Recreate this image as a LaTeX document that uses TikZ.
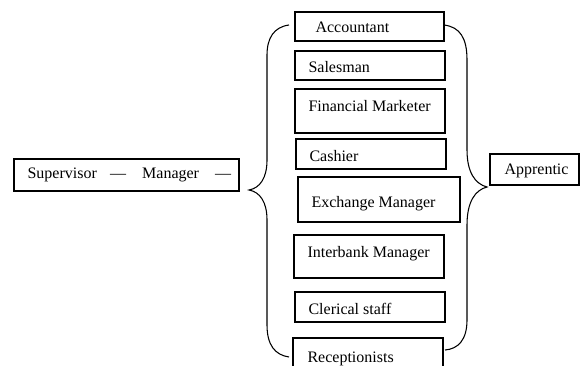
\documentclass[tikz,border=0pt]{standalone}
\usepackage{fontspec}
\setmainfont{Liberation Serif}

\begin{document}
\begin{tikzpicture}[x=0.75pt, y=-0.75pt, line width=0.8pt,
		jobbox/.style={shape=rectangle, draw, inner sep=0pt},
		joblabel/.style={anchor=base west, inner sep=0pt, font=\fontsize{12}{14}\selectfont}]
		\useasboundingbox (0,0) rectangle (580,366);
		% Boxes and their texts:
		\node[jobbox, minimum width=168.75pt, minimum height=24pt] (sup) at (126.5, 175){};
		\node[joblabel] (supt) at (27, 179){Supervisor\hspace{10pt}—\hspace{12pt}Manager\hspace{12pt}—};
		\node[jobbox, minimum width=111.75pt, minimum height=21.75pt] (acc) at (369.5, 26.5){};
		\node[joblabel] (acct) at (315, 33){Accountant};
		\node[jobbox, minimum width=112.5pt, minimum height=21.75pt] (sal) at (370, 65.5){};
		\node[joblabel] (salt) at (308, 73){Salesman};
		\node[jobbox, minimum width=112.5pt, minimum height=33pt] (fin) at (370, 111){};
		\node[joblabel] (fint) at (308, 112){Financial Marketer};
		\node[jobbox, minimum width=112.5pt, minimum height=22.5pt] (cas) at (371, 154){};
		\node[joblabel] (cast) at (309, 162){Cashier};
		\node[jobbox, minimum width=121.5pt, minimum height=33.75pt] (exc) at (379, 199.5){};
		\node[joblabel] (exct) at (311, 208){Exchange Manager};
		\node[jobbox, minimum width=112.5pt, minimum height=32.25pt] (int) at (369, 256.5){};
		\node[joblabel] (intt) at (307, 257){Interbank Manager};
		\node[jobbox, minimum width=112.5pt, minimum height=22.5pt] (cle) at (370, 307){};
		\node[joblabel] (clet) at (308, 314){Clerical staff};
		\node[jobbox, minimum width=112.5pt, minimum height=27.75pt] (rec) at (368, 356.5){};
		\node[joblabel] (rect) at (307, 362){Receptionists};
		\node[jobbox, minimum width=66.75pt, minimum height=23.25pt] (app) at (534.5, 169.5){};
		\node[joblabel] (appt) at (504, 175){Apprentic};
		% Braces:
		\draw (289, 25) .. controls (274, 27) and (267, 38) .. (267, 55) -- (267, 160)
			.. controls (267, 178) and (260, 188) .. (249, 190)
			.. controls (260, 192) and (267, 202) .. (267, 220) -- (267, 325)
			.. controls (267, 345) and (275, 355) .. (289, 357);
		\draw (444, 25) .. controls (460, 27) and (467, 38) .. (467, 60) -- (467, 150)
			.. controls (467, 172) and (475, 184) .. (487, 187)
			.. controls (475, 190) and (467, 202) .. (467, 225) -- (467, 320)
			.. controls (467, 340) and (458, 349) .. (445, 350);
	\end{tikzpicture}
\end{document}
